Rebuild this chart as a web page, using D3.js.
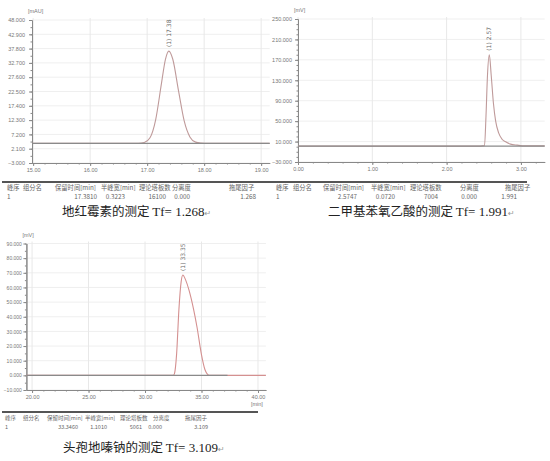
<!DOCTYPE html>
<meta charset="utf-8">
<script src="https://d3js.org/d3.v7.min.js"></script>
<style>
  body { margin: 0; background: #fff; }
  .tick text { font: 5.5px "Liberation Sans", sans-serif; fill: #777; }
  .tick line, .domain { stroke: #888; }
  .tbl { font: 6.3px "Noto Sans CJK SC", sans-serif; fill: #666; }
  .unit { font: 5.5px "Liberation Sans", sans-serif; fill: #777; }
  .plabel { font: 6px "DejaVu Sans", sans-serif; fill: #666; }
</style>

<body>
  <script>
    // panel 1 : 地红霉素
    var p1Time = [14.98, 16.85, 16.95, 17.05, 17.15, 17.25, 17.32, 17.381, 17.45, 17.55, 17.65, 17.75, 17.85, 17.95, 18.05, 19.15];
    var p1Signal = [4.0, 4.0, 4.3, 6.0, 12.5, 25.2, 33.9, 36.9, 34.0, 22.8, 12.0, 6.3, 4.45, 4.1, 4.0, 4.0];
    var p1XTicks = [15, 16, 17, 18, 19];
    var p1YTicks = [-3, 2.1, 7.2, 12.3, 17.4, 22.5, 27.6, 32.7, 37.8, 42.9, 48];
    var p1Row = ["1", "", "17.3810", "0.3223", "16100", "0.000", "1.268"];

    // panel 2 : 二甲基苯氧乙酸
    var p2Time = [0, 2.40, 2.51, 2.53, 2.55, 2.5747, 2.60, 2.63, 2.66, 2.70, 2.75, 2.80, 2.86, 2.95, 3.05, 3.32];
    var p2Signal = [1, 1, 2, 60, 140, 180, 140, 85, 50, 27, 14, 9, 5, 3, 1.5, 1.5];
    var p2XTicks = [0, 1, 2, 3];
    var p2YTicks = [-30, 10, 50, 90, 130, 170, 210, 250];
    var p2Row = ["1", "", "2.5747", "0.0720", "7004", "0.000", "1.991"];

    // panel 3 : 头孢地嗪钠
    var p3Time = [19.5, 32.5, 32.6, 32.8, 33.0, 33.2, 33.346, 33.6, 33.9, 34.3, 34.6, 35.0, 35.3, 35.5, 35.7, 40.7];
    var p3Signal = [0, 0, 1, 15, 45, 64, 68.5, 65, 58, 45, 33, 14, 4, 1, 0, 0];
    var p3XTicks = [20, 25, 30, 35, 40];
    var p3YTicks = [-10, 0, 10, 20, 30, 40, 50, 60, 70, 80, 90];
    var p3Row = ["1", "", "33.3460", "1.1010", "5061", "0.000", "3.109"];

    var tableHeaders = ["峰序", "组分名", "保留时间[min]", "半峰宽[min]", "理论塔板数", "分离度", "拖尾因子"];
    var titles = ["地红霉素的测定", "二甲基苯氧乙酸的测定", "头孢地嗪钠的测定"];
    var tfValues = ["1.268", "1.991", "3.109"];
    var peakLabels = ["(1) 17.38", "(1) 2.57", "(1) 33.35"];
    var yUnits = ["[mAU]", "[mV]", "[mV]"];

    var width = 550, height = 461;
    var svg = d3.select("body").append("svg")
      .attr("width", width)
      .attr("height", height);

    // thick rule above the two top tables
    svg.append("line")
      .attr("x1", 2).attr("x2", 527)
      .attr("y1", 182).attr("y2", 182)
      .attr("stroke", "#555").attr("stroke-width", 2);

    function drawPanel(cfg) {
      var x = d3.scaleLinear().domain(cfg.xDomain).range(cfg.xRange);
      var y = d3.scaleLinear().domain(cfg.yDomain).range(cfg.yRange);
      var g = svg.append("g");
      var x0 = cfg.xRange[0], x1 = cfg.xRange[1];
      var yb = cfg.yRange[0], yt = cfg.yRange[1];

      // grid
      g.selectAll(".hg").data(cfg.yTicks).enter().append("line")
        .attr("x1", x0).attr("x2", x1)
        .attr("y1", function (d) { return y(d); })
        .attr("y2", function (d) { return y(d); })
        .attr("stroke", "#efefef");
      g.selectAll(".vg").data(cfg.xTicks).enter().append("line")
        .attr("x1", function (d) { return x(d); })
        .attr("x2", function (d) { return x(d); })
        .attr("y1", yt - 2).attr("y2", yb)
        .attr("stroke", "#e8e8e8");

      // minor ticks
      var xStep = cfg.xTicks[1] - cfg.xTicks[0];
      var xMinor = d3.range(cfg.xTicks[0], cfg.xDomain[1], xStep / 5);
      var yStep = cfg.yTicks[1] - cfg.yTicks[0];
      var yMinor = d3.range(cfg.yTicks[0], cfg.yDomain[1] + 1e-6, yStep / cfg.yMinorDiv);

      g.append("g").attr("transform", "translate(0," + yb + ")")
        .call(d3.axisBottom(x).tickValues(xMinor).tickSize(1.5).tickSizeOuter(0).tickFormat(""));
      g.append("g").attr("transform", "translate(" + x0 + ",0)")
        .call(d3.axisLeft(y).tickValues(yMinor).tickSize(1.5).tickSizeOuter(0).tickFormat(""));

      g.append("g").attr("transform", "translate(0," + yb + ")")
        .call(d3.axisBottom(x).tickValues(cfg.xTicks).tickSize(3).tickPadding(2).tickSizeOuter(0)
          .tickFormat(d3.format(".2f")));
      g.append("g").attr("transform", "translate(" + x0 + ",0)")
        .call(d3.axisLeft(y).tickValues(cfg.yTicks).tickSize(3).tickPadding(cfg.yPad).tickSizeOuter(0)
          .tickFormat(d3.format(".3f")))
        .selectAll("text").style("font-size", cfg.yFont + "px");

      g.append("text").attr("class", "unit")
        .attr("x", x0 - 4).attr("y", yt - 7)
        .text(cfg.unit);
      if (cfg.xUnit) {
        g.append("text").attr("class", "unit")
          .attr("x", x1 - 15).attr("y", yb + 16)
          .text(cfg.xUnit);
      }

      // trace
      var pts = cfg.time.map(function (t, i) { return [t, cfg.signal[i]]; });
      var line = d3.line()
        .x(function (d) { return x(d[0]); })
        .y(function (d) { return y(d[1]); })
        .curve(d3.curveMonotoneX);
      g.append("path").datum(pts)
        .attr("d", line)
        .attr("fill", "none")
        .attr("stroke", cfg.traceColor)
        .attr("stroke-width", 1.1);

      // baseline drawn over the flat part
      var base = cfg.signal[0];
      g.append("line")
        .attr("x1", x(cfg.time[0])).attr("x2", x(cfg.baseEnd))
        .attr("y1", y(base)).attr("y2", y(base))
        .attr("stroke", "#8a8a8a").attr("stroke-width", 1.1);

      // peak label
      var pk = d3.maxIndex(cfg.signal);
      g.append("text").attr("class", "plabel")
        .attr("transform", "translate(" + (x(cfg.time[pk]) + 2) + "," + (y(cfg.signal[pk]) - 4) + ") rotate(-90)")
        .text(cfg.peakLabel);

      // result table
      if (cfg.tableEnd) {
        svg.append("line")
          .attr("x1", cfg.tableX - 3).attr("x2", cfg.tableEnd)
          .attr("y1", cfg.tableY).attr("y2", cfg.tableY)
          .attr("stroke", "#555").attr("stroke-width", 2);
      }
      svg.selectAll(null).data(tableHeaders).enter().append("text")
        .attr("class", "tbl")
        .style("font-size", cfg.tblFont + "px")
        .attr("x", function (d, i) { return cfg.tableX + cfg.colX[i]; })
        .attr("y", cfg.tableY + 8)
        .text(function (d) { return d; });
      svg.selectAll(null).data(cfg.row).enter().append("text")
        .attr("class", "tbl")
        .style("font-size", cfg.tblFont + "px")
        .attr("text-anchor", function (d, i) { return i < 2 ? "start" : "end"; })
        .attr("x", function (d, i) { return cfg.tableX + (i < 2 ? cfg.colX[i] : cfg.colEnd[i]); })
        .attr("y", cfg.tableY + 17)
        .text(function (d) { return d; });

      // caption
      var t = svg.append("text")
        .attr("x", cfg.titleX).attr("y", cfg.titleY)
        .attr("fill", "#222");
      t.append("tspan").style("font", "12.5px 'Noto Sans CJK SC', sans-serif").text(cfg.title + " ");
      t.append("tspan").style("font", "13px 'Liberation Serif', serif").text("Tf= " + cfg.tf);
      t.append("tspan").style("font", "8px 'DejaVu Sans', sans-serif").attr("fill", "#999").text("↵");
    }

    drawPanel({
      time: p1Time, signal: p1Signal, xTicks: p1XTicks, yTicks: p1YTicks,
      xDomain: [14.98, 19.15], xRange: [32, 269.7],
      yDomain: [-3, 48], yRange: [163, 20], yMinorDiv: 2, yFont: 5.5, yPad: 4,
      unit: yUnits[0], traceColor: "#bf9a9a", baseEnd: 19.15,
      peakLabel: peakLabels[0],
      tableX: 5, tableY: 182, tableEnd: 0, tblFont: 6.3,
      colX: [2, 18, 50, 96, 134, 167, 224],
      colEnd: [0, 0, 92, 120, 161, 185, 251],
      row: p1Row, title: titles[0], tf: tfValues[0], titleX: 62, titleY: 216
    });

    drawPanel({
      time: p2Time, signal: p2Signal, xTicks: p2XTicks, yTicks: p2YTicks,
      xDomain: [0, 3.32], xRange: [298, 544.7],
      yDomain: [-30, 250], yRange: [162, 19], yMinorDiv: 4, yFont: 5.5, yPad: 3,
      unit: yUnits[1], traceColor: "#bf9a9a", baseEnd: 3.32,
      peakLabel: peakLabels[1],
      tableX: 276, tableY: 182, tableEnd: 0, tblFont: 6.3,
      colX: [0, 17, 47, 95, 134, 184, 229],
      colEnd: [0, 0, 81, 119, 162, 201, 241],
      row: p2Row, title: titles[1], tf: tfValues[1], titleX: 328, titleY: 216
    });

    drawPanel({
      time: p3Time, signal: p3Signal, xTicks: p3XTicks, yTicks: p3YTicks,
      xDomain: [19.5, 40.7], xRange: [26.4, 265.9],
      yDomain: [-10, 90], yRange: [390, 243.5], yMinorDiv: 2, yFont: 5, yPad: 1.5,
      unit: yUnits[2], traceColor: "#d49090", baseEnd: 37.3,
      peakLabel: peakLabels[2], xUnit: "[min]",
      tableX: 5, tableY: 412, tableEnd: 258, tblFont: 5.5,
      colX: [0, 18, 42, 80, 115, 148, 180],
      colEnd: [0, 0, 73, 102, 137, 157, 203],
      row: p3Row, title: titles[2], tf: tfValues[2], titleX: 63, titleY: 452
    });
  </script>
</body>

</html>
